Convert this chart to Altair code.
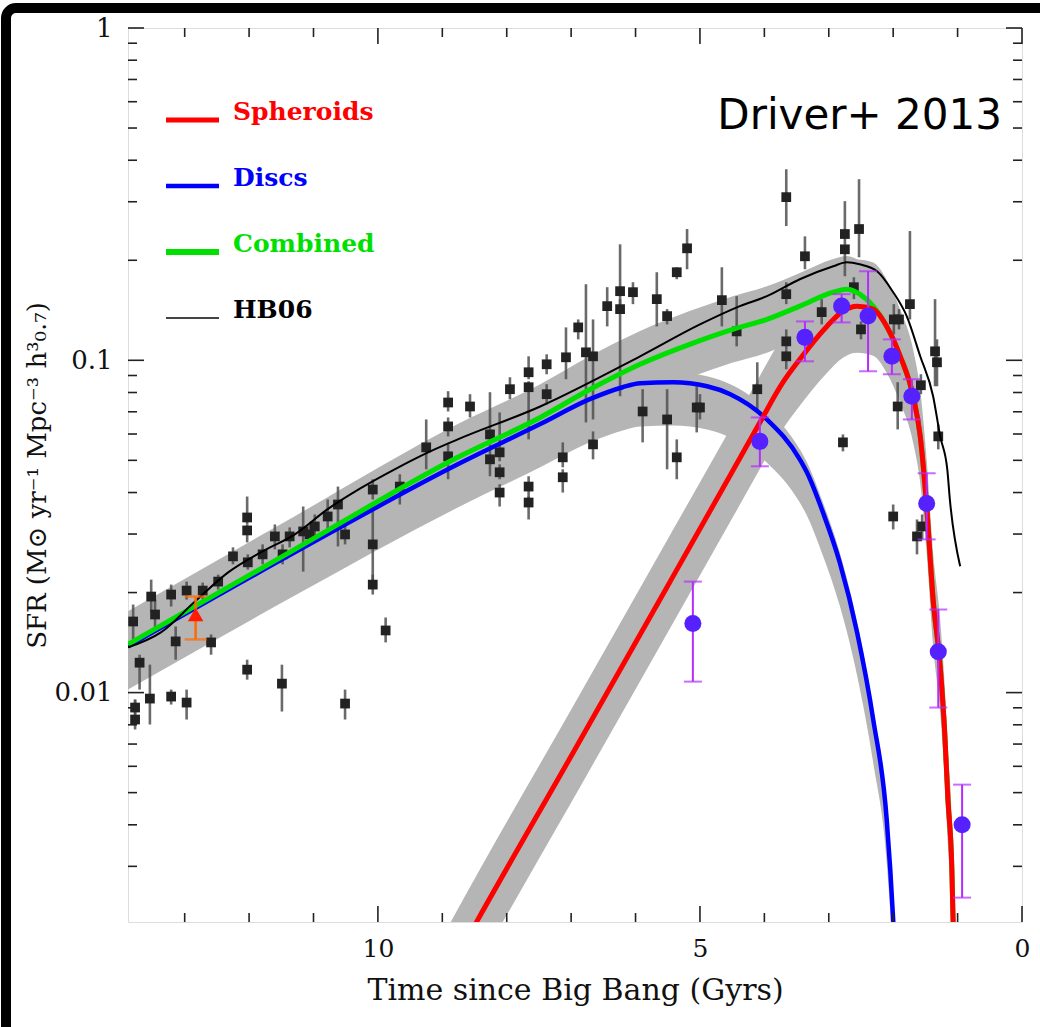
import altair as alt
import pandas as pd

# ---------------- data (lookback time in Gyr, log10 SFR) ----------------
disc_t = [13.88, 11.29, 8.76, 7.48, 6.71, 6.20, 5.93, 5.42, 4.89, 4.53, 3.96, 3.45, 3.34, 3.09, 2.83, 2.56, 2.31, 2.10, 2.00, 1.97]
disc_log = [-1.861, -1.578, -1.313, -1.192, -1.117, -1.081, -1.069, -1.066, -1.078, -1.102, -1.178, -1.298, -1.337, -1.458, -1.608, -1.819, -2.081, -2.383, -2.684, -2.804]

sph_t = [8.88, 8.45, 6.97, 5.42, 4.46, 4.07, 3.71, 3.45, 3.03, 2.78, 2.56, 2.31, 2.10, 1.89, 1.69, 1.58, 1.48, 1.38, 1.27, 1.20, 1.15, 1.09, 1.07, 1.04]
sph_log = [-2.834, -2.684, -2.181, -1.651, -1.322, -1.187, -1.066, -0.997, -0.898, -0.852, -0.837, -0.846, -0.898, -0.988, -1.108, -1.229, -1.440, -1.720, -1.922, -2.120, -2.322, -2.524, -2.684, -2.804]

comb_t = [13.88, 11.29, 8.76, 7.48, 6.71, 5.93, 5.16, 4.49, 3.96, 3.45, 2.93, 2.72, 2.52, 2.31, 2.10, 1.89, 1.69, 1.58, 1.48, 1.38, 1.27, 1.20, 1.15, 1.09, 1.07, 1.04]
comb_log = [-1.855, -1.569, -1.292, -1.172, -1.088, -1.012, -0.952, -0.907, -0.877, -0.837, -0.795, -0.786, -0.801, -0.837, -0.898, -0.988, -1.108, -1.229, -1.440, -1.720, -1.922, -2.120, -2.322, -2.524, -2.684, -2.804]

hb_t = [13.88, 13.37, 12.84, 12.33, 11.82, 11.29, 10.78, 10.26, 9.74, 9.22, 8.76, 7.48, 5.93, 5.00, 4.38, 3.96, 3.45, 2.93, 2.72, 2.52, 2.25, 2.00, 1.79, 1.58, 1.38, 1.27, 1.16, 1.12, 0.96]
hb_log = [-1.864, -1.819, -1.726, -1.639, -1.578, -1.524, -1.448, -1.384, -1.328, -1.277, -1.238, -1.139, -0.988, -0.892, -0.837, -0.807, -0.756, -0.717, -0.705, -0.711, -0.732, -0.795, -0.867, -0.988, -1.108, -1.229, -1.328, -1.419, -1.620]

# band half-widths (dex) of the model uncertainty regions
disc_band = (0.13, 0.03)
sph_band = (0.14, 0.14)
comb_band = (0.10, 0.10)

# compilation data (black squares)
obs_t = [13.52, 13.46, 13.21, 12.97, 12.72, 13.80, 13.70, 13.14, 12.59, 12.48, 12.25, 12.03, 12.03, 12.02, 11.79, 11.60, 11.48, 11.37, 11.16, 11.06,
         10.98, 10.78, 10.62, 10.51, 10.08, 10.08, 10.08, 9.66, 9.88, 9.25, 8.91, 8.91, 8.91, 12.03, 11.49, 13.21, 12.97, 13.54, 13.77, 13.77,
         10.51, 8.57, 8.26, 8.26, 8.11, 8.11, 8.11, 7.95, 7.66, 7.66, 7.66, 7.66, 7.38, 7.38, 7.13, 7.13, 7.08, 6.89, 6.77, 6.66,
         6.66, 6.44, 6.24, 6.24, 6.04, 5.89, 5.67, 5.51, 5.51, 5.36, 5.36, 5.20, 5.05, 4.66, 4.43, 3.66, 3.37, 3.66, 3.66, 3.66,
         4.11, 3.11, 2.75, 2.75, 2.53, 2.61, 2.50, 2.78, 1.99, 1.91, 1.74, 1.93, 1.57, 1.35, 1.32, 1.30, 5.00, 2.00, 1.63, 1.55]
obs_log = [-1.711, -1.765, -1.705, -1.693, -1.693, -1.786, -1.910, -1.846, -1.849, -1.666, -1.590, -1.473, -1.512, -1.608, -1.584, -1.530, -1.584, -1.530, -1.515, -1.524,
           -1.500, -1.470, -1.434, -1.524, -1.389, -1.554, -1.675, -1.380, -1.813, -1.262, -1.127, -1.199, -1.289, -1.931, -1.973, -2.012, -2.030, -2.018, -2.081, -2.045,
           -2.033, -1.139, -1.223, -1.298, -1.277, -1.337, -1.398, -1.087, -1.036, -1.081, -1.380, -1.428, -1.012, -1.102, -1.292, -1.352, -0.991, -0.901, -0.976, -0.988,
           -1.253, -0.837, -0.792, -0.846, -0.795, -1.154, -0.816, -1.178, -0.867, -0.735, -1.292, -0.663, -1.142, -0.819, -0.913, -0.509, -0.687, -0.801, -0.943, -0.988,
           -1.087, -0.855, -0.620, -0.666, -0.605, -0.780, -0.907, -1.247, -0.877, -0.877, -0.831, -1.139, -1.075, -0.973, -1.006, -1.229, -1.142, -1.470, -1.530, -1.500]
obs_lo = [-1.756, -1.804, -1.741, -1.720, -1.720, -1.840, -1.991, -1.901, -1.886, -1.690, -1.614, -1.494, -1.548, -1.630, -1.614, -1.569, -1.614, -1.563, -1.636, -1.554,
          -1.539, -1.524, -1.560, -1.554, -1.419, -1.681, -1.705, -1.434, -1.849, -1.328, -1.154, -1.229, -1.358, -1.961, -2.057, -2.036, -2.081, -2.096, -2.111, -2.066,
          -2.081, -1.172, -1.253, -1.349, -1.304, -1.358, -1.440, -1.117, -1.057, -1.238, -1.419, -1.479, -1.042, -1.133, -1.322, -1.398, -1.057, -0.937, -1.187, -1.178,
          -1.298, -0.898, -0.846, -1.108, -0.831, -1.247, -0.898, -1.328, -0.892, -0.756, -1.358, -0.726, -1.217, -0.898, -0.958, -0.596, -0.726, -0.831, -0.967, -1.027,
          -1.148, -0.892, -0.651, -0.747, -0.690, -0.816, -0.937, -1.274, -0.922, -0.907, -0.877, -1.208, -1.102, -1.078, -1.078, -1.268, -1.178, -1.509, -1.584, -1.539]
obs_hi = [-1.660, -1.720, -1.675, -1.666, -1.669, -1.735, -1.886, -1.801, -1.825, -1.645, -1.563, -1.410, -1.494, -1.584, -1.554, -1.494, -1.554, -1.503, -1.440, -1.494,
          -1.464, -1.419, -1.380, -1.494, -1.358, -1.440, -1.645, -1.343, -1.774, -1.178, -1.093, -1.172, -1.253, -1.901, -1.916, -1.991, -1.991, -1.916, -2.021, -2.021,
          -1.991, -1.102, -1.096, -1.253, -1.157, -1.313, -1.373, -1.051, -0.988, -1.063, -1.349, -1.410, -0.982, -1.072, -1.247, -1.328, -0.901, -0.877, -0.771, -0.877,
          -1.214, -0.780, -0.651, -0.816, -0.765, -1.087, -0.735, -1.087, -0.846, -0.720, -1.238, -0.605, -1.078, -0.720, -0.807, -0.425, -0.627, -0.765, -0.907, -0.967,
          -1.006, -0.816, -0.521, -0.651, -0.455, -0.750, -0.883, -1.223, -0.831, -0.846, -0.611, -1.066, -1.042, -0.816, -0.937, -1.193, -1.102, -1.434, -1.479, -1.464]

# spheroid data points (purple)
gama_t = [5.11, 4.07, 3.37, 2.80, 2.39, 2.02, 1.71, 1.48, 1.30, 0.93]
gama_log = [-1.792, -1.244, -0.931, -0.837, -0.867, -0.988, -1.108, -1.431, -1.877, -2.398]
gama_lo = [-1.967, -1.319, -1.003, -0.886, -1.033, -1.042, -1.178, -1.539, -2.045, -2.617]
gama_hi = [-1.666, -1.172, -0.883, -0.801, -0.732, -0.937, -1.057, -1.340, -1.750, -2.277]

# red triangle point
tri_t = [12.83]
tri_log = [-1.765]
tri_lo = [-1.840]
tri_hi = [-1.711]

# axis ticks
x_major = [0, 5, 10]
x_minor = [1, 2, 3, 4, 6, 7, 8, 9, 11, 12, 13]
y_major = [0.01, 0.1, 1]
y_minor = [0.003, 0.004, 0.005, 0.006, 0.007, 0.008, 0.009,
           0.02, 0.03, 0.04, 0.05, 0.06, 0.07, 0.08, 0.09,
           0.2, 0.3, 0.4, 0.5, 0.6, 0.7, 0.8, 0.9]

legend_names = ["Spheroids", "Discs", "Combined", "HB06"]
legend_colors = ["#ff0000", "#0000ff", "#00e000", "#000000"]
legend_widths = [5, 4.5, 6, 2]
note_text = "Driver+ 2013"

# ---------------- helpers ----------------
W = 894
H = 894
SERIF = "DejaVu Serif"

xscale = alt.Scale(domain=[0, 13.88], reverse=True, nice=False, zero=False)
yscale = alt.Scale(type="log", domain=[0.00204, 1.0], nice=False)

xaxis = alt.Axis(values=x_major, format="d", ticks=False, domain=False, grid=False,
                 labelFont=SERIF, labelFontSize=25, labelColor="#111111", labelPadding=14,
                 labelFlush=False, title="Time since Big Bang (Gyrs)", titleFont=SERIF,
                 titleFontSize=30, titleFontWeight="normal", titleColor="#111111", titlePadding=14)
yaxis = alt.Axis(values=y_major, format="~g", ticks=False, domain=False, grid=False,
                 labelFont=SERIF, labelFontSize=26, labelColor="#111111", labelPadding=16,
                 title="SFR (M⊙ yr⁻¹ Mpc⁻³ h³₀.₇)", titleFont=SERIF, titleFontSize=26,
                 titleFontWeight="normal", titleColor="#111111", titlePadding=4)


def X(field):
    return alt.X(field, type="quantitative", scale=xscale, axis=xaxis)


def Y(field):
    return alt.Y(field, type="quantitative", scale=yscale, axis=yaxis)


def curve_df(t, lg, band):
    return pd.DataFrame({
        "t": t,
        "sfr": [10 ** v for v in lg],
        "lo": [10 ** (v - band[0]) for v in lg],
        "hi": [10 ** (v + band[1]) for v in lg],
    })


def pts_df(t, lg, lo, hi):
    return pd.DataFrame({
        "t": t,
        "sfr": [10 ** v for v in lg],
        "lo": [10 ** v for v in lo],
        "hi": [10 ** v for v in hi],
    })


disc = curve_df(disc_t, disc_log, disc_band)
sph = curve_df(sph_t, sph_log, sph_band)
comb = curve_df(comb_t, comb_log, comb_band)
hb = curve_df(hb_t, hb_log, (0, 0))
obs = pts_df(obs_t, obs_log, obs_lo, obs_hi)
gama = pts_df(gama_t, gama_log, gama_lo, gama_hi)
tri = pts_df(tri_t, tri_log, tri_lo, tri_hi)

BAND = "#b5b5b5"
layers = []

# uncertainty bands
for df in (comb, disc, sph):
    layers.append(alt.Chart(df).mark_area(color=BAND, interpolate="monotone", clip=True).encode(
        x=X("t"), y=Y("lo"), y2=alt.Y2("hi")))

# compilation data
layers.append(alt.Chart(obs).mark_rule(color="#505050", strokeWidth=2.6, opacity=0.85, clip=True).encode(
    x=X("t"), y=Y("lo"), y2=alt.Y2("hi")))
layers.append(alt.Chart(obs).mark_square(size=95, color="#222222", opacity=1, clip=True).encode(
    x=X("t"), y=Y("sfr")))

# model curves (discs, combined, spheroids on top, then HB06)
for df, col, sw in ((disc, "#0000ff", 4.5), (comb, "#00e000", 5), (sph, "#ff0000", 5), (hb, "#000000", 2)):
    layers.append(alt.Chart(df).mark_line(color=col, strokeWidth=sw, interpolate="monotone", clip=True).encode(
        x=X("t"), y=Y("sfr")))

# purple points
PBAR = "#b52bff"
layers.append(alt.Chart(gama).mark_rule(color=PBAR, strokeWidth=2).encode(x=X("t"), y=Y("lo"), y2=alt.Y2("hi")))
layers.append(alt.Chart(gama).mark_tick(color=PBAR, orient="horizontal", size=18, thickness=2).encode(x=X("t"), y=Y("lo")))
layers.append(alt.Chart(gama).mark_tick(color=PBAR, orient="horizontal", size=18, thickness=2).encode(x=X("t"), y=Y("hi")))
layers.append(alt.Chart(gama).mark_circle(size=290, color="#5522ff", opacity=1).encode(x=X("t"), y=Y("sfr")))

# red triangle
OBAR = "#ff6a00"
layers.append(alt.Chart(tri).mark_rule(color=OBAR, strokeWidth=2.5).encode(x=X("t"), y=Y("lo"), y2=alt.Y2("hi")))
layers.append(alt.Chart(tri).mark_tick(color=OBAR, orient="horizontal", size=22, thickness=2.5).encode(x=X("t"), y=Y("lo")))
layers.append(alt.Chart(tri).mark_tick(color=OBAR, orient="horizontal", size=22, thickness=2.5).encode(x=X("t"), y=Y("hi")))
layers.append(alt.Chart(tri).mark_point(shape="triangle-up", size=240, filled=True, color="#ff1a00", opacity=1).encode(
    x=X("t"), y=Y("sfr")))

# inward ticks on all four sides
TK = "#222222"
xmaj = pd.DataFrame({"v": x_major})
xmin = pd.DataFrame({"v": x_minor})
ymaj = pd.DataFrame({"v": y_major})
ymin = pd.DataFrame({"v": y_minor})
for df, L in ((xmaj, 16), (xmin, 9)):
    layers.append(alt.Chart(df).mark_rule(color=TK, strokeWidth=1.6).encode(x=X("v"), y=alt.value(H), y2=alt.value(H - L)))
    layers.append(alt.Chart(df).mark_rule(color=TK, strokeWidth=1.6).encode(x=X("v"), y=alt.value(0), y2=alt.value(L)))
for df, L in ((ymaj, 16), (ymin, 9)):
    layers.append(alt.Chart(df).mark_rule(color=TK, strokeWidth=1.6).encode(y=Y("v"), x=alt.value(0), x2=alt.value(L)))
    layers.append(alt.Chart(df).mark_rule(color=TK, strokeWidth=1.6).encode(y=Y("v"), x=alt.value(W), x2=alt.value(W - L)))

# legend (drawn by hand, as in the original figure)
for i, (name, col, sw) in enumerate(zip(legend_names, legend_colors, legend_widths)):
    ly = 92 + 66 * i
    ldf = pd.DataFrame({"label": [name]})
    lcol = "#444444" if col == "#000000" else col
    layers.append(alt.Chart(ldf).mark_rule(color=lcol, strokeWidth=sw).encode(
        x=alt.value(38), x2=alt.value(91), y=alt.value(ly)))
    layers.append(alt.Chart(ldf).mark_text(color=col, font=SERIF, fontSize=25, fontWeight="bold",
                                           align="left", baseline="middle").encode(
        x=alt.value(105), y=alt.value(ly - 8), text="label:N"))

# annotation
layers.append(alt.Chart(pd.DataFrame({"label": [note_text]})).mark_text(
    font="DejaVu Sans", fontSize=42, color="#000000", align="right", baseline="alphabetic").encode(
    x=alt.value(874), y=alt.value(101), text="label:N"))

# outer slide frame
layers.append(alt.Chart(pd.DataFrame({"a": [0]})).mark_rect(
    fillOpacity=0, stroke="#000000", strokeWidth=10, cornerRadius=10).encode(
    x=alt.value(-122), x2=alt.value(960), y=alt.value(-20), y2=alt.value(1060)))

chart = alt.layer(*layers).properties(
    width=W, height=H,
    autosize=alt.AutoSizeParams(type="none"),
    padding={"left": 128, "top": 28, "right": 18, "bottom": 105},
).configure_view(stroke="#1a1a1a", strokeWidth=2).configure(background="white")

chart.save("out.html", embed_options={"renderer": "svg", "actions": False})
